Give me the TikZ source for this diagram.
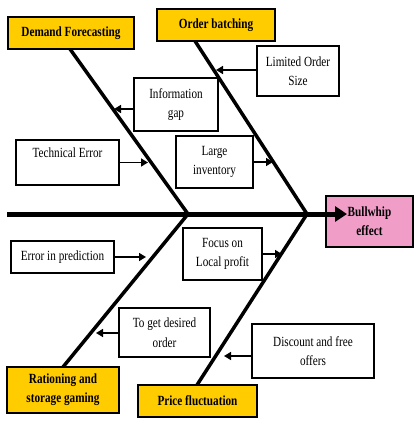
\documentclass[tikz,border=0pt]{standalone}
\usepackage{fontspec}
\setmainfont{Liberation Serif}[FakeStretch=0.8]
\usetikzlibrary{arrows.meta}
\definecolor{gold}{RGB}{255,204,0}
\definecolor{pinkbox}{RGB}{240,158,200}
\tikzset{
  cbox/.style={draw=black, line width=1.3pt, fill=white, inner sep=0pt, align=center,
    font=\fontsize{14}{19.5}\selectfont},
  tbox/.style={draw=black, line width=1.8pt, fill=gold, inner sep=0pt, align=center,
    font=\fontsize{14}{19}\selectfont\bfseries},
  bone/.style={line width=3.5pt, line join=miter},
  spine/.style={line width=5pt, -{Triangle[length=12pt,width=15pt]}},
  carrow/.style={line width=1.5pt, -{Triangle[length=7pt,width=8pt]}}
}
\begin{document}
\begin{tikzpicture}[x=1pt,y=-1pt]
\useasboundingbox (0,0) rectangle (417,424);
% effect box
\node[tbox, fill=pinkbox, minimum width=87pt, minimum height=51pt] (bw) at (369.5,221.5) {Bullwhip\\effect};
% junctions and bone ends
\coordinate (j1) at (188,214);
\coordinate (j2) at (307,214);
\coordinate (tail) at (7,214);
\coordinate (head) at (347,214);
\coordinate (dfb) at (70,49);
\coordinate (obb) at (195,41);
\coordinate (rsb) at (63,367);
\coordinate (pfb) at (197,385);
\draw[bone] (dfb) -- (j1) -- (rsb);
\draw[bone] (obb) -- (j2) -- (pfb);
\draw[spine] (tail) -- (head);
% category boxes
\node[tbox, minimum width=126pt, minimum height=32pt] (df) at (71,33) {Demand Forecasting};
\node[tbox, minimum width=118pt, minimum height=32pt] (ob) at (216,25) {Order batching};
\node[tbox, minimum width=112pt, minimum height=46pt] (rs) at (63,390) {Rationing and\\storage gaming};
\node[tbox, minimum width=119pt, minimum height=32pt] (pf) at (197.5,401) {Price fluctuation};
% cause boxes
\node[cbox, minimum width=84pt, minimum height=53pt] (info) at (176,104.5) {Information\\gap};
\node[cbox, minimum width=103pt, minimum height=45pt] (tech) at (67.5,162.5) {Technical Error\\\mbox{}};
\node[cbox, minimum width=77pt, minimum height=52pt] (large) at (214.5,162) {Large\\inventory};
\node[cbox, minimum width=82pt, minimum height=50pt] (limited) at (298,71) {Limited Order\\Size};
\node[cbox, minimum width=103pt, minimum height=32pt] (errpred) at (62.5,257) {Error in prediction};
\node[cbox, minimum width=79pt, minimum height=52pt] (focus) at (222.5,254) {Focus on\\Local profit};
\node[cbox, minimum width=91pt, minimum height=49pt] (desired) at (164.5,332.5) {To get desired\\order};
\node[cbox, minimum width=122pt, minimum height=54pt] (discount) at (313,351) {Discount and free\\offers};
% arrow tips on bones
\coordinate (ainfo) at (114,109);
\coordinate (atech) at (148,162.5);
\coordinate (alarge) at (273,162);
\coordinate (alim) at (216,70);
\coordinate (aerr) at (146,257);
\coordinate (afocus) at (282,254);
\coordinate (ades) at (96,333);
\coordinate (adis) at (224,356);
\draw[carrow] (info.west |- ainfo) -- (ainfo);
\draw[carrow] (tech.east) -- (atech);
\draw[carrow] (large.east) -- (alarge);
\draw[carrow] (limited.west |- alim) -- (alim);
\draw[carrow] (errpred.east) -- (aerr);
\draw[carrow] (focus.east) -- (afocus);
\draw[carrow] (desired.west |- ades) -- (ades);
\draw[carrow] (discount.west |- adis) -- (adis);
\end{tikzpicture}
\end{document}
